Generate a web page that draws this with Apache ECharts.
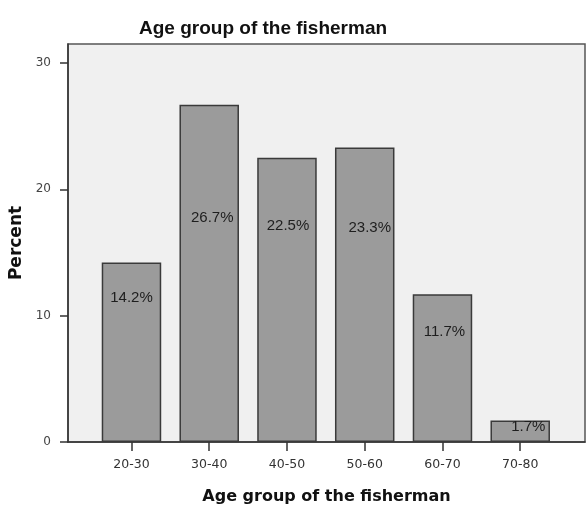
<!DOCTYPE html>
<html>
<head>
<meta charset="utf-8">
<script src="https://cdn.jsdelivr.net/npm/echarts@6/dist/echarts.min.js"></script>
<style>
html, body { margin: 0; padding: 0; background: #fff; }
#chart { width: 587px; height: 507px; }
</style>
</head>
<body>
<div id="chart"></div>
<script>
var ageGroups = ['20-30', '30-40', '40-50', '50-60', '60-70', '70-80'];
var percents = [14.2, 26.7, 22.5, 23.3, 11.7, 1.7];
var yTicks = [0, 10, 20, 30];

// where SPSS put each data label inside its bar (px from bar top, px sideways)
var labelDown = [35, 113, 68, 80, 38, 6];
var labelSide = [0, 3, 1, 5, 2, 8];

var myChart = echarts.init(document.getElementById('chart'));

var barData = percents.map(function (v, i) {
    return {
        value: v,
        label: {
            position: ['50%', labelDown[i]],
            offset: [labelSide[i], 0]
        }
    };
});

var option = {
    backgroundColor: '#ffffff',
    animation: false,
    title: {
        text: 'Age group of the fisherman',
        left: 134,
        top: 14,
        textStyle: {
            fontFamily: 'Liberation Sans',
            fontWeight: 'bold',
            fontSize: 19,
            color: '#111'
        }
    },
    grid: [
        { left: 68, right: 2, top: 44, bottom: 65, outerBoundsMode: 'none', containLabel: false, show: true, backgroundColor: '#f0f0f0', borderColor: '#555', borderWidth: 1.5 },
        { left: 92.6, width: 466.5, top: 44, bottom: 65, outerBoundsMode: 'none', containLabel: false }
    ],
    xAxis: [
        {
            gridIndex: 0, type: 'value', min: 0, max: 1,
            axisLine: { show: true, lineStyle: { color: '#333', width: 1.5 } },
            axisTick: { show: false }, axisLabel: { show: false }, splitLine: { show: false },
            name: 'Age group of the fisherman',
            nameLocation: 'middle',
            nameGap: 47,
            nameTextStyle: { fontFamily: 'DejaVu Sans', fontWeight: 'bold', fontSize: 16, color: '#111' }
        },
        {
            gridIndex: 1, type: 'category', data: ageGroups,
            axisLine: { show: false },
            axisTick: { show: true, alignWithLabel: true, length: 9, lineStyle: { color: '#333', width: 1.5 } },
            axisLabel: { fontFamily: 'DejaVu Sans', fontSize: 12.5, color: '#333', margin: 16 }
        }
    ],
    yAxis: [
        {
            gridIndex: 0, type: 'value', min: 0, max: 31.5, interval: 10,
            axisLine: { show: true, lineStyle: { color: '#333', width: 1.5 } },
            axisTick: { show: true, length: 8, customValues: yTicks, lineStyle: { color: '#333', width: 1.5 } },
            axisLabel: { customValues: yTicks, fontFamily: 'DejaVu Sans', fontSize: 12, color: '#444', margin: 17 },
            splitLine: { show: false },
            name: 'Percent',
            nameLocation: 'middle',
            nameGap: 42,
            nameTextStyle: { fontFamily: 'DejaVu Sans', fontWeight: 'bold', fontSize: 17, color: '#111' }
        },
        {
            gridIndex: 1, type: 'value', min: 0, max: 31.5, show: false
        }
    ],
    series: [
        {
            type: 'bar',
            xAxisIndex: 1,
            yAxisIndex: 1,
            data: barData,
            barWidth: 59.5,
            itemStyle: { color: '#9b9b9b', borderColor: '#3a3a3a', borderWidth: 1.5 },
            label: {
                show: true,
                align: 'center',
                verticalAlign: 'middle',
                formatter: function (p) { return p.value.toFixed(1) + '%'; },
                fontFamily: 'Liberation Sans',
                fontSize: 15,
                color: '#1e1e1e'
            }
        }
    ]
};

myChart.setOption(option);
</script>
</body>
</html>
